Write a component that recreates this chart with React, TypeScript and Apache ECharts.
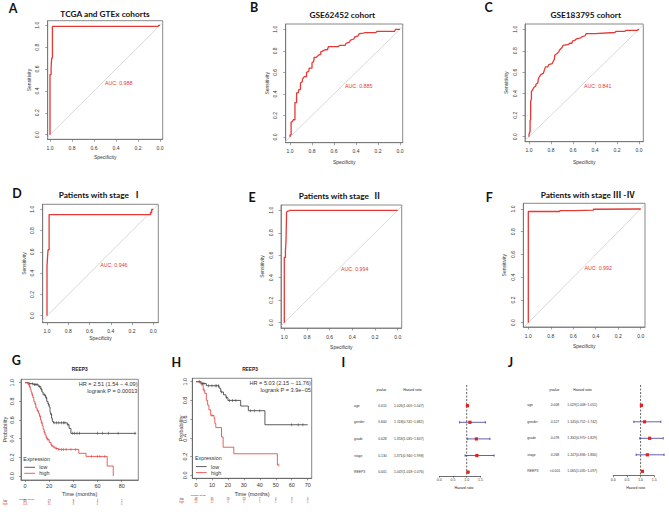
import React, { useEffect, useRef } from "react";
import * as echarts from "echarts";

// ---------------- ROC data: [specificity, sensitivity] ----------------
const rocTitles = [
  "TCGA and GTEx cohorts",
  "GSE62452 cohort",
  "GSE183795 cohort",
  "Patients with stage  Ⅰ",
  "Patients with stage  Ⅱ",
  "Patients with stage Ⅲ -Ⅳ",
];
const rocAuc = ["0.988", "0.885", "0.841", "0.946", "0.994", "0.992"];
const rocTickValues = [0, 0.2, 0.4, 0.6, 0.8, 1];

const rocA = [[1, 0], [1, 0.55], [0.99, 0.55], [0.99, 0.61], [0.985, 0.61], [0.985, 0.7], [0.978, 0.7], [0.978, 0.99], [0.02, 0.99], [0.01, 1], [0, 1]];
const rocB = [[1, 0], [1, 0.02], [0.99, 0.02], [0.99, 0.14], [0.98, 0.14], [0.97, 0.16], [0.955, 0.16], [0.955, 0.32], [0.94, 0.32], [0.94, 0.41], [0.925, 0.41], [0.92, 0.44], [0.905, 0.44], [0.905, 0.5], [0.89, 0.51], [0.885, 0.54], [0.87, 0.56], [0.85, 0.56], [0.85, 0.6], [0.83, 0.61], [0.825, 0.64], [0.8, 0.64], [0.8, 0.69], [0.785, 0.7], [0.78, 0.74], [0.76, 0.74], [0.74, 0.76], [0.72, 0.77], [0.72, 0.79], [0.7, 0.8], [0.68, 0.81], [0.66, 0.81], [0.65, 0.84], [0.56, 0.84], [0.55, 0.85], [0.5, 0.85], [0.49, 0.87], [0.46, 0.88], [0.45, 0.9], [0.42, 0.91], [0.41, 0.93], [0.38, 0.94], [0.37, 0.96], [0.33, 0.965], [0.32, 0.97], [0.22, 0.97], [0.21, 0.98], [0.05, 0.98], [0.04, 1], [0, 1]];
const rocC = [[1, 0], [1, 0.02], [0.99, 0.05], [0.99, 0.15], [0.985, 0.16], [0.985, 0.33], [0.978, 0.35], [0.978, 0.42], [0.965, 0.44], [0.955, 0.46], [0.94, 0.47], [0.935, 0.49], [0.92, 0.5], [0.915, 0.54], [0.905, 0.56], [0.89, 0.58], [0.87, 0.59], [0.86, 0.62], [0.85, 0.65], [0.83, 0.65], [0.82, 0.67], [0.79, 0.68], [0.78, 0.7], [0.77, 0.72], [0.765, 0.76], [0.75, 0.77], [0.73, 0.79], [0.72, 0.81], [0.7, 0.83], [0.69, 0.85], [0.64, 0.86], [0.63, 0.87], [0.61, 0.87], [0.605, 0.89], [0.58, 0.9], [0.57, 0.91], [0.53, 0.92], [0.52, 0.93], [0.49, 0.94], [0.48, 0.96], [0.4, 0.96], [0.22, 0.97], [0.21, 0.98], [0.13, 0.98], [0.12, 0.99], [0.02, 0.99], [0, 1]];
const rocD = [[1, 0], [1, 0.47], [0.995, 0.47], [0.995, 0.55], [0.99, 0.55], [0.99, 0.62], [0.98, 0.62], [0.98, 0.95], [0.025, 0.95], [0.025, 0.97], [0.015, 0.97], [0.015, 1], [0, 1]];
const rocE = [[1, 0], [1, 0.58], [0.99, 0.58], [0.99, 0.64], [0.985, 0.64], [0.985, 0.72], [0.98, 0.72], [0.98, 0.98], [0.975, 0.99], [0.96, 0.995], [0.95, 1], [0, 1]];
const rocF = [[1, 0], [1, 0.978], [0.72, 0.978], [0.72, 0.985], [0.58, 0.985], [0.58, 0.99], [0.42, 0.99], [0.42, 0.998], [0, 1]];
const rocCurves = [rocA, rocB, rocC, rocD, rocE, rocF];

// ---------------- Kaplan-Meier data: [time, survival] ----------------
const kmProbTicks = [0, 0.2, 0.4, 0.6, 0.8, 1];
const kmTimeTicksG = [0, 20, 40, 60, 80];
const kmTimeTicksH = [0, 10, 20, 30, 40, 50, 60, 70];
const kmGLow = [[0, 1], [3, 0.99], [7, 0.98], [11, 0.96], [13, 0.93], [14, 0.9], [15, 0.87], [17, 0.84], [18, 0.8], [19, 0.77], [20, 0.74], [20.7, 0.7], [21.2, 0.66], [22, 0.62], [22.6, 0.585], [23.5, 0.57], [35, 0.55], [36.5, 0.51], [38, 0.457], [92, 0.457]];
const kmGHigh = [[0, 1], [2.5, 0.98], [3.5, 0.96], [4.3, 0.93], [5, 0.9], [5.7, 0.87], [6.5, 0.84], [7.3, 0.8], [8.2, 0.77], [9, 0.73], [10, 0.7], [11.2, 0.67], [12, 0.64], [12.8, 0.6], [13.5, 0.57], [14.3, 0.54], [15, 0.5], [15.8, 0.47], [16.6, 0.44], [17.5, 0.41], [18.5, 0.39], [20, 0.36], [21.5, 0.33], [23, 0.31], [25, 0.295], [27.5, 0.285], [44.5, 0.243], [50.5, 0.21], [68, 0.107], [73, 0]];
const kmGLowCensor = [4, 6, 8, 9, 10, 12, 13.5, 16, 17.5, 19.5, 21.8, 24, 26, 28, 30, 32, 33, 35.5, 39.5, 41, 43, 45, 60, 64, 69, 77, 91];
const kmGHighCensor = [4, 6, 8.5, 10.5, 12.5, 14, 16, 18, 19, 22, 24, 26, 28, 30, 32, 34, 38, 42, 55, 60, 62, 66];
const kmHLow = [[0, 1], [3, 0.98], [6.5, 0.957], [14.5, 0.93], [15.5, 0.89], [17.2, 0.86], [18.8, 0.83], [20, 0.8], [28, 0.74], [32.8, 0.69], [43.2, 0.54], [70, 0.54]];
const kmHHigh = [[0, 1], [3.3, 0.965], [4.5, 0.91], [5.5, 0.875], [6.5, 0.8], [7.3, 0.75], [8.1, 0.7], [9.2, 0.64], [11.3, 0.61], [11.8, 0.555], [12.4, 0.51], [16, 0.41], [17, 0.3], [23.7, 0.23], [51, 0.11], [52, 0.11]];
const kmHLowCensor = [2, 4, 5, 8, 10, 12, 13, 14, 16, 19, 21, 23, 25, 34, 36.5, 40, 60, 64, 67];
const kmHHighCensor = [2, 5, 10, 52];
const kmGStats = ["HR = 2.51 (1.54 − 4.09)", "logrank P = 0.00013"];
const kmHStats = ["HR = 5.03 (2.15 − 11.76)", "logrank P = 3.9e−05"];
const riskGLow = [63, 27, 8, 4, 1];
const riskGHigh = [114, 31, 8, 4, 0];
const riskHLow = [48, 35, 19, 13, 7, 4, 3, 0];
const riskHHigh = [23, 12, 4, 2, 2, 2, 0, 0];

// ---------------- Forest plot data ----------------
const forestVars = ["age", "gender", "grade", "stage", "REEP3"];
const forestTicks = [0, 0.5, 1, 1.5];
const pI = ["0.015", "0.600", "0.028", "0.130", "0.001"];
const hrI = [1.026, 1.118, 1.353, 1.371, 1.047];
const loI = [1.005, 0.741, 1.035, 0.94, 1.018];
const hiI = [1.047, 1.682, 1.847, 1.998, 1.076];
const pJ = ["0.008", "0.527", "0.078", "0.268", "<0.001"];
const hrJ = [1.029, 1.145, 1.332, 1.247, 1.065];
const loJ = [1.008, 0.752, 0.97, 0.836, 1.035];
const hiJ = [1.051, 1.742, 1.829, 1.86, 1.097];

// ---------------- styling / layout ----------------
const FONT = "'Liberation Sans', Arial, sans-serif";
const TFONT = "Lato, 'Noto Sans', 'Noto Sans CJK SC', sans-serif";
const RED = "#e53935";
const DARK = "#333333";
const FRAME = "#6a6a6a";
const BLUE = "#3b3b9a";

const rocLayout = [
  { L: 47.7, R: 162.7, T: 20.7, B: 139.3, x1: 50, x0: 160, y1: 25.3, y0: 134.7, letter: [13, 8], title: [105, 14.3], specY: 156.7 },
  { L: 285.7, R: 402.7, T: 24, B: 142.7, x1: 290, x0: 400, y1: 29.3, y0: 137, letter: [254, 7.5], title: [342.3, 15], specY: 162.3 },
  { L: 525, R: 643.3, T: 24, B: 141.7, x1: 529, x0: 639, y1: 29.3, y0: 136.7, letter: [488.7, 7.5], title: [585.7, 15], specY: 162.3 },
  { L: 42.7, R: 158.3, T: 204.3, B: 322.7, x1: 47, x0: 153.3, y1: 209.3, y0: 315.7, letter: [17, 193.3], title: [100, 194.7], specY: 338.3 },
  { L: 281, R: 401.7, T: 205, B: 328, x1: 284.3, x0: 397.7, y1: 210.3, y0: 322.7, letter: [252, 197], title: [340, 195.7], specY: 347 },
  { L: 523.3, R: 645, T: 203.3, B: 327, x1: 528.3, x0: 640.7, y1: 209, y0: 322.7, letter: [489.3, 197.8], title: [587.7, 195], specY: 346 },
];

function stepValue(curve: number[][], t: number) {
  let s = curve[0][1];
  for (const p of curve) {
    if (p[0] <= t) s = p[1];
    else break;
  }
  return s;
}

function buildOption() {
  const grid: any[] = [];
  const xAxis: any[] = [];
  const yAxis: any[] = [];
  const series: any[] = [];
  const elements: any[] = [];

  const txt = (x: number, y: number, text: string, o: any = {}) => {
    const align = o.align || "center";
    const va = o.va || "middle";
    elements.push({
      type: "text",
      x,
      y,
      rotation: o.rot || 0,
      silent: true,
      style: {
        text,
        fontSize: o.size || 5,
        fontFamily: o.font || FONT,
        fontWeight: o.bold ? "bold" : "normal",
        fill: o.color || "#222",
        align,
        verticalAlign: va,
        textAlign: align,
        textVerticalAlign: va,
      },
    });
  };
  const seg = (x1: number, y1: number, x2: number, y2: number, color: string, w: number) => {
    elements.push({ type: "line", silent: true, shape: { x1, y1, x2, y2 }, style: { stroke: color, lineWidth: w } });
  };

  const valueAxis = (gi: number, o: any) => ({
    gridIndex: gi,
    type: "value",
    min: o.min,
    max: o.max,
    inverse: !!o.inverse,
    splitLine: { show: false },
    axisLine: { show: o.line !== false, onZero: false, lineStyle: { color: o.lineColor || FRAME, width: 0.7 } },
    axisTick: { show: true, length: o.tickLen || 2.5, customValues: o.ticks, lineStyle: { color: o.lineColor || FRAME, width: 0.6 } },
    axisLabel: {
      customValues: o.ticks,
      formatter: o.fmt,
      fontSize: o.size || 5,
      fontFamily: FONT,
      color: DARK,
      margin: o.margin,
      rotate: o.rotate || 0,
    },
  });

  // ----- ROC panels -----
  rocLayout.forEach((p, i) => {
    const sx = p.x0 - p.x1;
    const sy = p.y0 - p.y1;
    grid.push({
      left: p.L,
      top: p.T,
      width: p.R - p.L,
      height: p.B - p.T,
      show: true,
      borderColor: FRAME,
      borderWidth: 0.8,
      backgroundColor: "transparent",
      containLabel: false,
      outerBoundsMode: "none",
    });
    xAxis.push(
      valueAxis(i, {
        min: -(p.R - p.x0) / sx,
        max: 1 + (p.x1 - p.L) / sx,
        inverse: true,
        ticks: rocTickValues,
        fmt: (v: number) => v.toFixed(1),
        margin: 6,
      })
    );
    yAxis.push(
      valueAxis(i, {
        min: -(p.B - p.y0) / sy,
        max: 1 + (p.y1 - p.T) / sy,
        ticks: rocTickValues,
        fmt: (v: number) => v.toFixed(1),
        margin: 8,
        rotate: 90,
      })
    );
    series.push({
      type: "line",
      xAxisIndex: i,
      yAxisIndex: i,
      data: [[1.1, -0.1], [-0.1, 1.1]],
      symbol: "none",
      clip: true,
      lineStyle: { color: "#c9c9c9", width: 0.7 },
      z: 2,
    });
    series.push({
      type: "line",
      xAxisIndex: i,
      yAxisIndex: i,
      data: rocCurves[i],
      symbol: "none",
      clip: true,
      lineStyle: { color: RED, width: 1.3 },
      z: 3,
    });
    txt(p.letter[0], p.letter[1], "ABCDEF"[i], { size: 12.5, bold: true, font: TFONT, color: "#111" });
    txt(p.title[0], p.title[1], rocTitles[i], { size: 8.3, bold: true, font: TFONT, color: "#111" });
    txt(p.L - 19, (p.T + p.B) / 2, "Sensitivity", { size: 5, rot: Math.PI / 2, color: DARK });
    txt((p.L + p.R) / 2, p.specY, "Specificity", { size: 5, color: DARK });
    txt(p.x1 + 0.5 * sx, p.y0 - 0.5 * sy, "AUC: " + rocAuc[i], { size: 5.3, color: RED, align: "left", va: "top" });
  });

  // ----- KM panels -----
  const kmPanels = [
    {
      L: 21, R: 138.3, T: 379.3, B: 480, t0: 25, tScale: 1.2088, y1: 382.7, y0: 476,
      ticks: kmTimeTicksG, low: kmGLow, high: kmGHigh, lowC: kmGLowCensor, highC: kmGHighCensor,
      stats: kmGStats, yMargin: 6.5, xMargin: 2.7, letter: [16.3, 360], titleX: 79.7, probX: 5,
      legX: 23.3, legY: 459, riskLow: riskGLow, riskHigh: riskGHigh, riskLabelX: 5.3, riskTitle: [26.7, 499], riskY: [501.7, 504.3],
    },
    {
      L: 192.3, R: 311.7, T: 378.3, B: 478.3, t0: 196, tScale: 1.5957, y1: 381.7, y0: 475.3,
      ticks: kmTimeTicksH, low: kmHLow, high: kmHHigh, lowC: kmHLowCensor, highC: kmHHighCensor,
      stats: kmHStats, yMargin: 4.5, xMargin: 4, letter: [176.3, 362], titleX: 250, probX: 180.7,
      legX: 195, legY: 458.3, riskLow: riskHLow, riskHigh: riskHHigh, riskLabelX: 181.7, riskTitle: [198.3, 495], riskY: [499.3, 502.7],
    },
  ];
  kmPanels.forEach((k, j) => {
    const gi = 6 + j;
    const sy = k.y0 - k.y1;
    grid.push({
      left: k.L, top: k.T, width: k.R - k.L, height: k.B - k.T,
      show: true, borderColor: "#555", borderWidth: 0.7, backgroundColor: "transparent",
      containLabel: false, outerBoundsMode: "none",
    });
    xAxis.push(
      valueAxis(gi, {
        min: (k.L - k.t0) / k.tScale,
        max: (k.R - k.t0) / k.tScale,
        ticks: k.ticks,
        fmt: (v: number) => String(v),
        margin: k.xMargin,
        size: 5.5,
        tickLen: 2,
        lineColor: "#555",
      })
    );
    yAxis.push(
      valueAxis(gi, {
        min: -(k.B - k.y0) / sy,
        max: 1 + (k.y1 - k.T) / sy,
        ticks: kmProbTicks,
        fmt: (v: number) => v.toFixed(1),
        margin: k.yMargin,
        size: 5.5,
        tickLen: 2,
        rotate: 90,
        lineColor: "#555",
      })
    );
    series.push({ type: "line", xAxisIndex: gi, yAxisIndex: gi, data: k.low, step: "end", symbol: "none", lineStyle: { color: DARK, width: 0.8 }, z: 3 });
    series.push({ type: "line", xAxisIndex: gi, yAxisIndex: gi, data: k.high, step: "end", symbol: "none", lineStyle: { color: RED, width: 0.8 }, z: 3 });
    series.push({
      type: "scatter", xAxisIndex: gi, yAxisIndex: gi,
      data: k.lowC.map((t) => [t, stepValue(k.low, t)]),
      symbol: "rect", symbolSize: [0.6, 3], itemStyle: { color: DARK }, z: 4,
    });
    series.push({
      type: "scatter", xAxisIndex: gi, yAxisIndex: gi,
      data: k.highC.map((t) => [t, stepValue(k.high, t)]),
      symbol: "rect", symbolSize: [0.6, 3], itemStyle: { color: RED }, z: 4,
    });
    txt(k.letter[0], k.letter[1], "GH"[j], { size: 12.5, bold: true, font: TFONT, color: "#111" });
    txt(k.titleX, 369.3, "REEP3", { size: 4.8, bold: true, color: "#222" });
    txt(k.R - 0.8, k.T + 5, k.stats[0], { size: 5.6, align: "right", color: DARK });
    txt(k.R - 0.8, k.T + 11.3, k.stats[1], { size: 5.6, align: "right", color: DARK });
    txt(k.probX, (k.T + k.B) / 2, "Probability", { size: 5.5, rot: Math.PI / 2, color: DARK });
    txt((k.L + k.R) / 2, 494, "Time (months)", { size: 5.5, color: DARK });
    // legend
    txt(k.legX, k.legY, "Expression", { size: 5.4, align: "left", color: DARK });
    seg(k.legX + 1, k.legY + 8.3, k.legX + 11.7, k.legY + 8.3, DARK, 0.8);
    seg(k.legX + 1, k.legY + 14.3, k.legX + 11.7, k.legY + 14.3, RED, 0.8);
    txt(k.legX + 16, k.legY + 8.3, "low", { size: 5.4, align: "left", color: DARK });
    txt(k.legX + 16, k.legY + 14.3, "high", { size: 5.4, align: "left", color: DARK });
    // risk table
    txt(k.riskTitle[0], k.riskTitle[1], "Number at risk", { size: 2.3, color: DARK });
    txt(k.riskLabelX, k.riskY[0], "low", { size: 2.6, color: DARK });
    txt(k.riskLabelX, k.riskY[1], "high", { size: 2.6, color: RED });
    k.ticks.forEach((t, m) => {
      const x = k.t0 + k.tScale * t;
      txt(x, k.riskY[0], String(k.riskLow[m]), { size: 2.6, color: DARK });
      txt(x, k.riskY[1], String(k.riskHigh[m]), { size: 2.6, color: RED });
    });
  });

  // ----- Forest panels -----
  const forestPanels = [
    {
      L: 439.3, scale: 27.4, top: 385, bottom: 476, row0: 405.7, rowStep: 16.6,
      p: pI, hr: hrI, lo: loI, hi: hiI, letter: [343.3, 362.7],
      labelX: 354, pX: 382.5, hrX: 408.8, headP: 381.5, headHR: 412.5, headY: 389.5, axisTitle: [464, 488.3],
    },
    {
      L: 613.3, scale: 27.3, top: 385, bottom: 475.7, row0: 405.3, rowStep: 16.5,
      p: pJ, hr: hrJ, lo: loJ, hi: hiJ, letter: [510.5, 362.5],
      labelX: 527.3, pX: 555, hrX: 582.2, headP: 554.5, headHR: 582.5, headY: 390, axisTitle: [635.7, 488.3],
    },
  ];
  forestPanels.forEach((f, j) => {
    const gi = 8 + j;
    const ymin = (f.top - f.row0) / f.rowStep;
    const ymax = (f.bottom - f.row0) / f.rowStep;
    grid.push({
      left: f.L, top: f.top, width: 1.5 * f.scale, height: f.bottom - f.top,
      show: false, containLabel: false, outerBoundsMode: "none",
    });
    xAxis.push(
      valueAxis(gi, {
        min: 0, max: 1.5, ticks: forestTicks,
        fmt: (v: number) => v.toFixed(1),
        margin: 2.3, size: 3.5, tickLen: 1.6, lineColor: "#333",
      })
    );
    yAxis.push({ gridIndex: gi, type: "value", inverse: true, min: ymin, max: ymax, show: false });
    series.push({
      type: "line", xAxisIndex: gi, yAxisIndex: gi,
      data: [[1, ymin], [1, ymax]], symbol: "none",
      lineStyle: { color: "#222", width: 0.7, type: [2, 1.5] }, z: 2,
    });
    series.push({
      type: "custom", xAxisIndex: gi, yAxisIndex: gi, clip: false, z: 3,
      data: forestVars.map((_, i) => [i, f.hr[i], f.lo[i], f.hi[i]]),
      encode: { x: [1, 2, 3], y: 0 },
      renderItem: (_params: any, api: any) => {
        const yi = api.value(0);
        const c = api.coord([api.value(1), yi]);
        const l = api.coord([api.value(2), yi]);
        const h = api.coord([api.value(3), yi]);
        const st = { stroke: BLUE, lineWidth: 0.8 };
        return {
          type: "group",
          children: [
            { type: "line", shape: { x1: l[0], y1: l[1], x2: h[0], y2: h[1] }, style: st },
            { type: "line", shape: { x1: l[0], y1: l[1] - 1.2, x2: l[0], y2: l[1] + 1.2 }, style: st },
            { type: "line", shape: { x1: h[0], y1: h[1] - 1.2, x2: h[0], y2: h[1] + 1.2 }, style: st },
            { type: "rect", shape: { x: c[0] - 1.6, y: c[1] - 1.6, width: 3.2, height: 3.2 }, style: { fill: "#e5201c" } },
          ],
        };
      },
    });
    txt(f.letter[0], f.letter[1], "IJ"[j], { size: 12.5, bold: true, font: TFONT, color: "#111" });
    txt(f.headP, f.headY, "pvalue", { size: 3.4, color: "#222" });
    txt(f.headHR, f.headY, "Hazard ratio", { size: 3.4, color: "#222" });
    forestVars.forEach((v, i) => {
      const y = f.row0 + f.rowStep * i;
      txt(f.labelX, y, v, { size: 3.4, align: "left", color: "#333" });
      txt(f.pX, y, f.p[i], { size: 3.4, color: "#333" });
      txt(f.hrX, y, `${f.hr[i].toFixed(3)}(${f.lo[i].toFixed(3)}~${f.hi[i].toFixed(3)})`, { size: 3.4, color: "#333" });
    });
    txt(f.axisTitle[0], f.axisTitle[1], "Hazard ratio", { size: 3.5, color: "#222" });
  });

  return {
    animation: false,
    backgroundColor: "#ffffff",
    grid,
    xAxis,
    yAxis,
    series,
    graphic: { elements },
  };
}

export default function App() {
  const ref = useRef<HTMLDivElement>(null);
  useEffect(() => {
    if (!ref.current) return;
    const chart = echarts.init(ref.current, undefined, { renderer: "svg" });
    chart.setOption(buildOption() as any);
    return () => chart.dispose();
  }, []);
  return (
    <div
      ref={ref}
      style={{ position: "absolute", left: 0, top: 0, width: 669, height: 515, background: "#fff" }}
    />
  );
}
